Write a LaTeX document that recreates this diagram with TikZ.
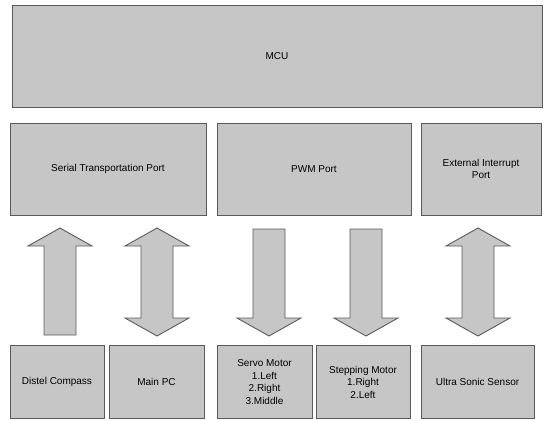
\documentclass[tikz,border=0pt]{standalone}
\usepackage{fontspec}
\setmainfont{Liberation Sans}
\definecolor{boxgray}{RGB}{198,198,198}
\definecolor{edgegray}{RGB}{90,90,90}
\begin{document}
\begin{tikzpicture}[x=1pt, y=-1pt, thick,
  block/.style={rectangle, draw=edgegray, line width=0.9pt, fill=boxgray, align=center, inner sep=2pt, font=\fontsize{10}{12.5}\selectfont},
  bigarrow/.style={draw=edgegray, line width=0.9pt, fill=boxgray}]
\useasboundingbox (0,0) rectangle (551,420);
\node[block, minimum width=530pt, minimum height=102pt] (MCU) at (277,56) {MCU};

\node[block, minimum width=196pt, minimum height=92pt] (S) at (108,169) {Serial Transportation Port};
\node[block, minimum width=194pt, minimum height=92pt] (P) at (314,169) {PWM Port};
\node[block, minimum width=120pt, minimum height=92pt] (E) at (481,169) {External Interrupt\\Port};

\node[block, minimum width=94pt, minimum height=73pt] (DC) at (57,382) {Distel Compass};
\node[block, minimum width=95pt, minimum height=73pt] (PC) at (156.5,382) {Main PC};
\node[block, minimum width=95pt, minimum height=73pt] (SM) at (264.5,382) {Servo Motor\\1.Left\\2.Right\\3.Middle};
\node[block, minimum width=94pt, minimum height=73pt] (ST) at (363,382) {Stepping Motor\\1.Right\\2.Left};
\node[block, minimum width=113pt, minimum height=73pt] (US) at (477.5,382) {Ultra Sonic Sensor};

% up
\draw[bigarrow] (44,335) -- (44,246) -- (28,246) -- (60,228) -- (92,246) -- (76,246) -- (76,335) -- cycle;
% both ways
\foreach \cx in {157,478}
  \draw[bigarrow] (\cx,228) -- (\cx+32,246) -- (\cx+16,246) -- (\cx+16,318) -- (\cx+32,318) -- (\cx,336)
    -- (\cx-32,318) -- (\cx-16,318) -- (\cx-16,246) -- (\cx-32,246) -- cycle;
% down
\foreach \cx in {269,366}
  \draw[bigarrow] (\cx-16,229) -- (\cx+16,229) -- (\cx+16,318) -- (\cx+32,318) -- (\cx,336)
    -- (\cx-32,318) -- (\cx-16,318) -- cycle;
\end{tikzpicture}
\end{document}
